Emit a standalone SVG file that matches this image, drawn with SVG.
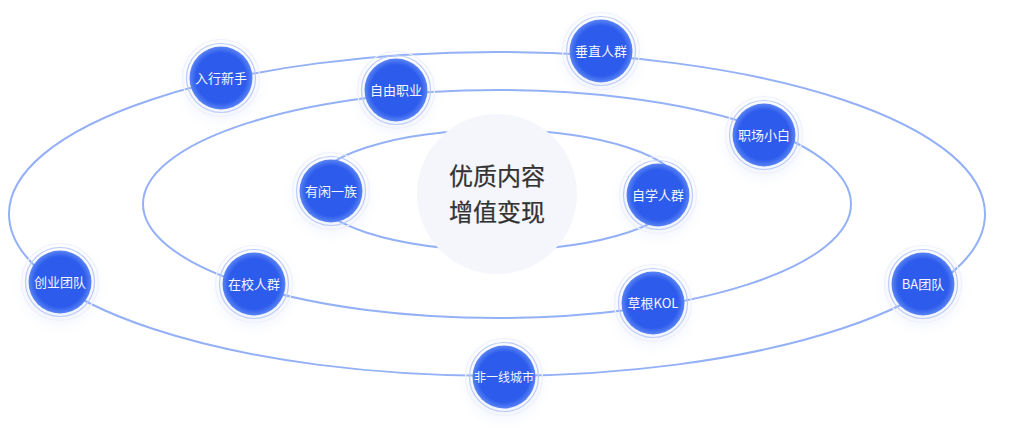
<svg xmlns="http://www.w3.org/2000/svg" width="1015" height="448" viewBox="0 0 1015 448">
<style>
.orbit{fill:none;stroke:#94b0f6;stroke-width:2}
.halo{fill:none;stroke:#eef1fd;stroke-width:1.2}
.glow{fill:#5b80ee;opacity:.09;filter:url(#sh)}
.ring{fill:none;stroke:#bccbf8;stroke-width:1.2}
.disc{fill:url(#blue)}
.lab{font-family:"Noto Sans CJK SC","Noto Sans",sans-serif;font-size:13px;fill:#f4f6ff;text-anchor:middle}
.small{font-size:12px}
.title{font-family:"Noto Sans CJK SC","Noto Sans",sans-serif;font-size:24px;fill:#333;text-anchor:middle;stroke:#333;stroke-width:.25}
</style>
<defs>
<radialGradient id="blue" cx="50%" cy="50%" r="50%">
<stop offset="0" stop-color="#2d5cec"/><stop offset="0.8" stop-color="#2d5cec"/><stop offset="1" stop-color="#5a84f4"/>
</radialGradient>
<filter id="sh" x="-60%" y="-60%" width="220%" height="220%"><feGaussianBlur stdDeviation="7"/></filter>
<g id="gl"><circle class="glow" cy="5" r="36"/></g>
<g id="n"><circle class="halo" r="38.500"/><circle class="ring" r="34.500"/><circle class="disc" r="31.500"/></g>
</defs>
<rect width="1015" height="448" fill="#fff"/>
<g id="glows">
<use href="#gl" x="221" y="78"/><use href="#gl" x="601" y="51"/><use href="#gl" x="396" y="90"/><use href="#gl" x="764" y="135"/><use href="#gl" x="331" y="191"/><use href="#gl" x="658" y="195"/><use href="#gl" x="60" y="282"/><use href="#gl" x="254" y="284"/><use href="#gl" x="653" y="303"/><use href="#gl" x="923" y="284"/><use href="#gl" x="504" y="377"/>
</g>
<g id="connectors">
<ellipse class="orbit" cx="497" cy="214" rx="488" ry="162"/>
<ellipse class="orbit" cx="497" cy="204" rx="354" ry="114"/>
<ellipse class="orbit" cx="497" cy="190" rx="185" ry="60"/>
</g>
<g id="center"><circle cx="497" cy="194" r="80" fill="#f5f6fc"/>
<text class="title" x="497" y="185">优质内容</text><text class="title" x="497" y="221">增值变现</text></g>
<g id="n1"><use href="#n" x="221" y="78"/><text class="lab" x="221" y="82.500">入行新手</text></g>
<g id="n2"><use href="#n" x="601" y="51"/><text class="lab" x="601" y="55.500">垂直人群</text></g>
<g id="n3"><use href="#n" x="396" y="90"/><text class="lab" x="396" y="94.500">自由职业</text></g>
<g id="n4"><use href="#n" x="764" y="135"/><text class="lab" x="764" y="139.500">职场小白</text></g>
<g id="n5"><use href="#n" x="331" y="191"/><text class="lab" x="331" y="195.500">有闲一族</text></g>
<g id="n6"><use href="#n" x="658" y="195"/><text class="lab" x="658" y="199.500">自学人群</text></g>
<g id="n7"><use href="#n" x="60" y="282"/><text class="lab" x="60" y="286.500">创业团队</text></g>
<g id="n8"><use href="#n" x="254" y="284"/><text class="lab" x="254" y="288.500">在校人群</text></g>
<g id="n9"><use href="#n" x="653" y="303"/><text class="lab" x="653" y="307.500">草根KOL</text></g>
<g id="n10"><use href="#n" x="923" y="284"/><text class="lab" x="923" y="288.500">BA团队</text></g>
<g id="n11"><use href="#n" x="504" y="377"/><text class="lab small" x="504" y="381.500">非一线城市</text></g>
</svg>
